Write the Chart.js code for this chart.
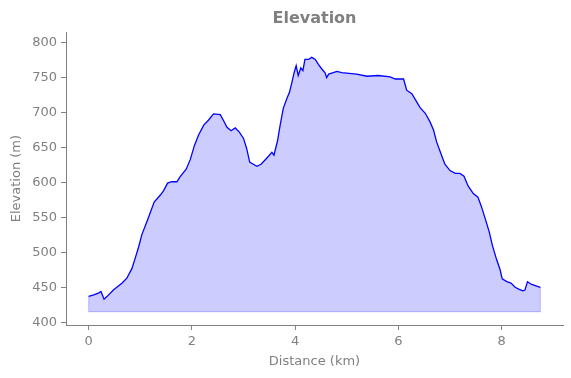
<!DOCTYPE html>
<html>
<head>
<meta charset="utf-8">
<script src="https://cdn.jsdelivr.net/npm/chart.js@4"></script>
<style>
  html, body { margin: 0; padding: 0; background: #fff; }
  #wrap { width: 571px; height: 378px; }
</style>
</head>
<body>
<div id="wrap"><canvas id="elev"></canvas></div>
<script>
// profile
const distanceKm = [0.00, 0.10, 0.20, 0.24, 0.30, 0.36, 0.48, 0.65, 0.74, 0.84, 0.90, 0.97, 1.03, 1.13, 1.19, 1.27, 1.39, 1.45, 1.53, 1.61, 1.71, 1.77, 1.89, 1.97, 2.05, 2.13, 2.23, 2.32, 2.42, 2.55, 2.61, 2.68, 2.76, 2.84, 2.92, 3.00, 3.06, 3.12, 3.19, 3.26, 3.34, 3.44, 3.55, 3.59, 3.66, 3.71, 3.77, 3.84, 3.89, 3.94, 3.98, 4.02, 4.06, 4.11, 4.15, 4.19, 4.26, 4.32, 4.39, 4.45, 4.52, 4.58, 4.61, 4.65, 4.81, 4.90, 5.19, 5.39, 5.61, 5.84, 5.94, 6.10, 6.16, 6.26, 6.34, 6.42, 6.52, 6.61, 6.68, 6.74, 6.81, 6.90, 7.00, 7.10, 7.19, 7.27, 7.35, 7.45, 7.54, 7.61, 7.69, 7.76, 7.82, 7.90, 7.97, 8.01, 8.10, 8.18, 8.26, 8.34, 8.41, 8.45, 8.50, 8.58, 8.75];
const elevationM = [437, 439, 442, 444, 433, 437, 446, 456, 463, 477, 491, 508, 525, 544, 556, 572, 582, 588, 599, 601, 601, 608, 619, 633, 653, 668, 682, 689, 698, 697, 689, 679, 674, 678, 672, 663, 649, 629, 626, 623, 626, 634, 643, 639, 660, 682, 706, 720, 729, 744, 757, 767, 753, 764, 760, 776, 776, 779, 776, 769, 762, 757, 750, 755, 759, 757, 755, 752, 753, 751, 748, 748, 732, 727, 717, 707, 699, 687, 675, 658, 644, 626, 617, 613, 613, 609, 595, 584, 579, 565, 546, 529, 510, 490, 475, 462, 458, 456, 450, 447, 445, 446, 458, 454, 450];
const fillBase = 415;
const xTicks = [0, 2, 4, 6, 8];
const yTicks = [400, 450, 500, 550, 600, 650, 700, 750, 800];

const grey = '#808080';
const font = { family: 'DejaVu Sans', size: 13 };

const profile = distanceKm.map((d, i) => ({ x: d, y: elevationM[i] }));
const last = distanceKm.length - 1;
// outline of the shaded area (left side, bottom, right side)
const edge = [
    { x: distanceKm[0], y: elevationM[0] },
    { x: distanceKm[0], y: fillBase },
    { x: distanceKm[last], y: fillBase },
    { x: distanceKm[last], y: elevationM[last] }
];

new Chart(document.getElementById('elev'), {
    type: 'line',
    data: {
        datasets: [
            {
                data: profile,
                borderColor: '#0000ff',
                borderWidth: 1.3,
                backgroundColor: 'rgba(0,0,255,0.2)',
                fill: { value: fillBase },
                pointRadius: 0,
                tension: 0
            },
            {
                data: edge,
                borderColor: 'rgba(0,0,255,0.2)',
                borderWidth: 1.3,
                fill: false,
                pointRadius: 0,
                tension: 0
            }
        ]
    },
    options: {
        responsive: true,
        maintainAspectRatio: false,
        animation: false,
        layout: { padding: { left: 0, right: 8, top: 0, bottom: 0 } },
        plugins: {
            legend: { display: false },
            tooltip: { enabled: false },
            title: {
                display: true,
                text: 'Elevation',
                color: grey,
                fullSize: false,
                font: { family: 'DejaVu Sans', size: 16, weight: 'bold' },
                padding: { top: 9, bottom: 4 }
            }
        },
        scales: {
            x: {
                type: 'linear',
                min: -0.4375,
                max: 9.1875,
                afterBuildTicks: s => { s.ticks = xTicks.map(v => ({ value: v })); },
                afterFit: s => { s.height = 53; },
                ticks: { color: grey, font: font, padding: 4, maxRotation: 0 },
                grid: { drawOnChartArea: false, drawTicks: true, tickLength: 5, color: grey },
                border: { color: grey, width: 1 },
                title: { display: true, text: 'Distance (km)', color: grey, font: font, padding: { top: 2, bottom: 9 } }
            },
            y: {
                min: 396,
                max: 815,
                afterBuildTicks: s => { s.ticks = yTicks.map(v => ({ value: v })); },
                afterFit: s => { s.width = 66; },
                ticks: { color: grey, font: font, padding: 4 },
                grid: { drawOnChartArea: false, drawTicks: true, tickLength: 5, color: grey },
                border: { color: grey, width: 1 },
                title: { display: true, text: 'Elevation (m)', color: grey, font: font, padding: 9 }
            }
        }
    }
});
</script>
</body>
</html>
